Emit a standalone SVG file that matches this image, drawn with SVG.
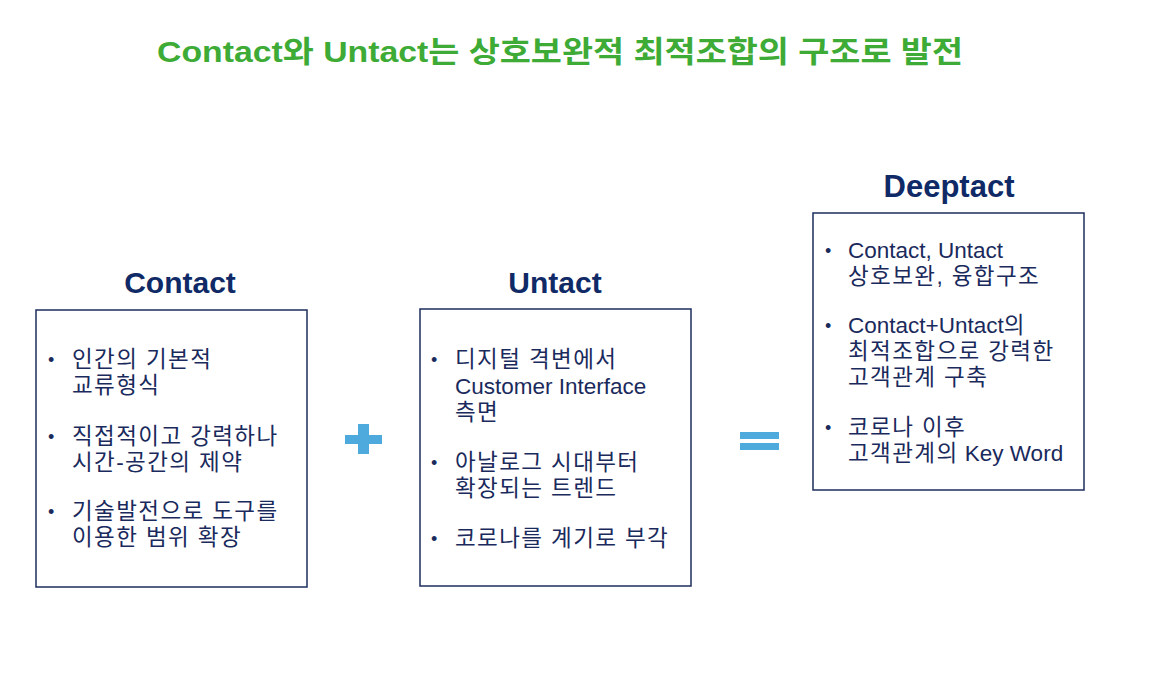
<svg xmlns="http://www.w3.org/2000/svg" width="1153" height="673" viewBox="0 0 1153 673">
<style>
.title{font-family:"Liberation Sans","Noto Sans CJK KR",sans-serif;font-weight:bold;font-size:30px;fill:#3dab35;}
.head{font-family:"Liberation Sans","Noto Sans CJK KR",sans-serif;font-weight:bold;font-size:30px;fill:#0f2a66;text-anchor:middle;}
.box{fill:#ffffff;stroke:#1d2c5c;stroke-width:1.5;}
.txt{font-family:"Liberation Sans","Noto Sans CJK KR",sans-serif;font-size:22.5px;fill:#1a2a5c;}
.ko{letter-spacing:1.4px;}
.bul{font-family:"Liberation Sans",sans-serif;font-size:18px;fill:#1a2a5c;}
.op{fill:#4ea9dc;}
</style>
<rect width="1153" height="673" fill="#ffffff"/>
<text class="title" x="560" y="62" text-anchor="middle" textLength="806" lengthAdjust="spacingAndGlyphs">Contact와 Untact는 상호보완적 최적조합의 구조로 발전</text>

<g id="contact">
<text class="head" x="180" y="293">Contact</text>
<rect class="box" x="36" y="310" width="271" height="277"/>
<text class="bul" x="48" y="366">•</text>
<text class="txt ko" x="72" y="367">인간의 기본적</text>
<text class="txt ko" x="72" y="393">교류형식</text>
<text class="bul" x="48" y="443">•</text>
<text class="txt ko" x="72" y="444">직접적이고 강력하나</text>
<text class="txt ko" x="72" y="470">시간-공간의 제약</text>
<text class="bul" x="48" y="518">•</text>
<text class="txt ko" x="72" y="519">기술발전으로 도구를</text>
<text class="txt ko" x="72" y="545">이용한 범위 확장</text>
</g>

<g id="plus">
<rect class="op" x="345" y="435" width="37" height="9"/>
<rect class="op" x="358" y="424" width="11" height="30"/>
</g>

<g id="untact">
<text class="head" x="555" y="293">Untact</text>
<rect class="box" x="420" y="309" width="271" height="277"/>
<text class="bul" x="431" y="366">•</text>
<text class="txt ko" x="455" y="367">디지털 격변에서</text>
<text class="txt" x="455" y="394">Customer Interface</text>
<text class="txt ko" x="455" y="420">측면</text>
<text class="bul" x="431" y="469">•</text>
<text class="txt ko" x="455" y="470">아날로그 시대부터</text>
<text class="txt ko" x="455" y="496">확장되는 트렌드</text>
<text class="bul" x="431" y="545">•</text>
<text class="txt ko" x="455" y="546">코로나를 계기로 부각</text>
</g>

<g id="equals">
<rect class="op" x="740" y="432" width="39" height="7"/>
<rect class="op" x="740" y="443" width="39" height="7"/>
</g>

<g id="deeptact">
<text class="head" x="949" y="197" style="font-size:31px">Deeptact</text>
<rect class="box" x="813" y="213" width="271" height="277"/>
<text class="bul" x="825" y="257">•</text>
<text class="txt" x="848" y="258">Contact, Untact</text>
<text class="txt ko" x="848" y="284">상호보완, 융합구조</text>
<text class="bul" x="825" y="332">•</text>
<text class="txt" x="848" y="333">Contact+Untact의</text>
<text class="txt ko" x="848" y="359">최적조합으로 강력한</text>
<text class="txt ko" x="848" y="385">고객관계 구축</text>
<text class="bul" x="825" y="434">•</text>
<text class="txt ko" x="848" y="435">코로나 이후</text>
<text class="txt" x="848" y="461"><tspan class="ko">고객관계의</tspan> Key Word</text>
</g>
<g id="connectors"></g>
</svg>
